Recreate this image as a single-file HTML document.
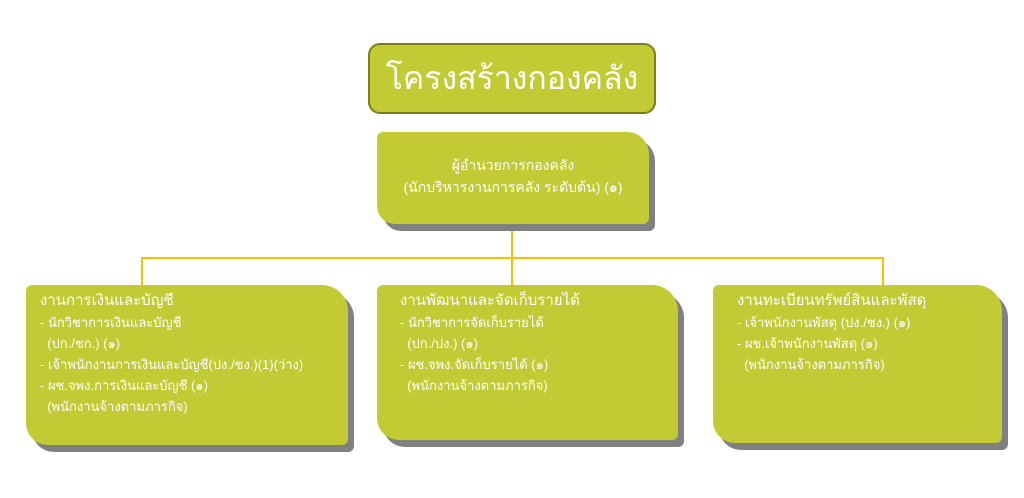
<!DOCTYPE html>
<html><head><meta charset="utf-8"><style>
body{margin:0;width:1024px;height:498px;background:#fff;position:relative;overflow:hidden;font-family:"Liberation Sans","Noto Sans CJK SC",sans-serif;color:#fff}
.b{position:absolute;background:#c2cb33;box-shadow:6px 7px 0 #808080;border-radius:6px 26px 6px 22px}
.l{position:absolute;background:#f5c000}
.t{position:absolute;white-space:nowrap;font-size:13px;line-height:21px}
.t .h{font-size:15px;line-height:22px}
</style></head><body>
<div style="position:absolute;left:368px;top:43px;width:284px;height:67px;background:#c2cb33;border:2px solid #7d7d1a;border-radius:12px;display:flex;align-items:center;justify-content:center;font-size:32px">โครงสร้างกองคลัง</div>
<div class="l" style="left:511px;top:225px;width:2px;height:60px"></div>
<div class="l" style="left:141px;top:257px;width:743px;height:2px"></div>
<div class="l" style="left:141px;top:257px;width:2px;height:28px"></div>
<div class="l" style="left:882px;top:257px;width:2px;height:28px"></div>
<div class="b" style="left:377px;top:132px;width:272px;height:92px;border-radius:6px 22px 6px 18px"></div>
<div class="t" style="left:377px;top:154px;width:272px;text-align:center;font-size:14px;line-height:22px">ผู้อำนวยการกองคลัง<br>(นักบริหารงานการคลัง ระดับต้น) (๑)</div>
<div class="b" style="left:26px;top:285px;width:322px;height:160px"></div>
<div class="t" style="left:40px;top:290px"><span class="h">งานการเงินและบัญชี</span><br>- นักวิชาการเงินและบัญชี<br>&nbsp;&nbsp;(ปก./ชก.) (๑)<br>- เจ้าพนักงานการเงินและบัญชี(ปง./ชง.)(1)(ว่าง)<br>- ผช.จพง.การเงินและบัญชี (๑)<br>&nbsp;&nbsp;(พนักงานจ้างตามภารกิจ)</div>
<div class="b" style="left:377px;top:285px;width:301px;height:155px"></div>
<div class="t" style="left:400px;top:290px"><span class="h">งานพัฒนาและจัดเก็บรายได้</span><br>- นักวิชาการจัดเก็บรายได้<br>&nbsp;&nbsp;(ปก./ปง.) (๑)<br>- ผช.จพง.จัดเก็บรายได้ (๑)<br>&nbsp;&nbsp;(พนักงานจ้างตามภารกิจ)</div>
<div class="b" style="left:713px;top:285px;width:289px;height:158px"></div>
<div class="t" style="left:737px;top:290px"><span class="h">งานทะเบียนทรัพย์สินและพัสดุ</span><br>- เจ้าพนักงานพัสดุ (ปง./ชง.) (๑)<br>- ผช.เจ้าพนักงานพัสดุ (๑)<br>&nbsp;&nbsp;(พนักงานจ้างตามภารกิจ)</div>
</body></html>
